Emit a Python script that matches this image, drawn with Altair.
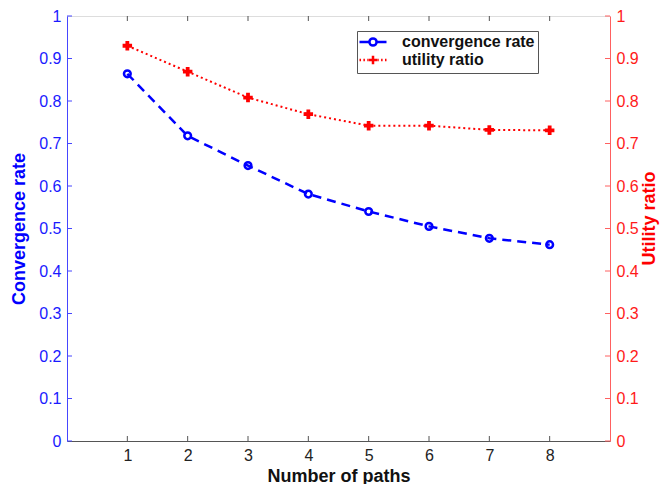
import altair as alt
import pandas as pd

# ---- data ----
paths = [1, 2, 3, 4, 5, 6, 7, 8]
convergence_rate = [0.864, 0.718, 0.648, 0.581, 0.540, 0.505, 0.477, 0.462]
utility_ratio = [0.930, 0.869, 0.808, 0.769, 0.742, 0.742, 0.732, 0.731]
series_names = ["convergence rate", "utility ratio"]
x_tick_values = [1, 2, 3, 4, 5, 6, 7, 8]
y_tick_values = [0, 0.1, 0.2, 0.3, 0.4, 0.5, 0.6, 0.7, 0.8, 0.9, 1]

# ---- styles ----
W, H = 543, 425
FONT = "Liberation Sans"
BLUE = "#0000ff"
RED = "#ff0000"
BLUE_AX = "#4646ff"
RED_AX = "#ff6060"
GRAY = "#555555"

conv = pd.DataFrame({"x": paths, "y": convergence_rate, "series": series_names[0]})
util = pd.DataFrame({"x": paths, "y": utility_ratio, "series": series_names[1]})
both = pd.concat([conv, util], ignore_index=True)
yt = pd.DataFrame({"y": y_tick_values})
xt = pd.DataFrame({"x": x_tick_values})

xscale = alt.Scale(domain=[0, 9], nice=False, zero=False)
yscale = alt.Scale(domain=[0, 1], nice=False)

x_axis = alt.Axis(values=x_tick_values, ticks=False, grid=False, domainColor=GRAY,
                  labelColor="#222222", labelFontSize=16, labelPadding=6, labelFont=FONT,
                  title="Number of paths", titleFont=FONT, titleFontSize=18,
                  titleFontWeight="bold", titleColor="#111111", titlePadding=4)
X = alt.X("x:Q", scale=xscale, axis=x_axis)

left_axis = alt.Axis(values=y_tick_values, format="~g", ticks=False, grid=False,
                     domainColor=BLUE_AX, labelColor="#1a1aff", labelFontSize=16,
                     labelPadding=6, labelFont=FONT, title="Convergence rate",
                     titleFont=FONT, titleColor=BLUE, titleFontSize=18,
                     titleFontWeight="bold", titlePadding=10)
right_axis = alt.Axis(orient="right", values=y_tick_values, format="~g", ticks=False,
                      grid=False, domainColor=RED_AX, labelColor="#ff1a1a",
                      labelFontSize=16, labelPadding=6, labelFont=FONT,
                      title="Utility ratio", titleFont=FONT, titleColor=RED,
                      titleFontSize=18, titleFontWeight="bold", titlePadding=2,
                      titleAngle=270, titleBaseline="top", titleY=202)
YL = alt.Y("y:Q", scale=yscale, axis=left_axis)
YR = alt.Y("y:Q", scale=yscale, axis=right_axis)

# ---- left (blue) group ----
left_line = alt.Chart(conv).mark_line(color=BLUE, strokeWidth=2.5, strokeDash=[9, 6]).encode(x=X, y=YL)
left_pts = alt.Chart(conv).mark_point(shape="circle", color=BLUE, filled=False,
                                      strokeWidth=2.5, size=45, opacity=1).encode(x=X, y=YL)
left_ticks = alt.Chart(yt).mark_rule(color=BLUE_AX, strokeWidth=1).encode(
    y=YL, x=alt.value(0), x2=alt.value(5))
x_ticks_bottom = alt.Chart(xt).mark_rule(color=GRAY, strokeWidth=1).encode(
    x=X, y=alt.value(H), y2=alt.value(H - 5))
x_ticks_top = alt.Chart(xt).mark_rule(color=GRAY, strokeWidth=1).encode(
    x=X, y=alt.value(0), y2=alt.value(5))
left = alt.layer(left_line, left_pts, left_ticks, x_ticks_bottom, x_ticks_top)

# ---- right (red) group ----
right_line = alt.Chart(util).mark_line(color=RED, strokeWidth=2, strokeDash=[2, 3]).encode(x=X, y=YR)
right_pts = alt.Chart(util).mark_point(shape="cross", color=RED, filled=True,
                                       size=90, opacity=1).encode(x=X, y=YR)
right_ticks = alt.Chart(yt).mark_rule(color=RED_AX, strokeWidth=1).encode(
    y=YR, x=alt.value(W - 5), x2=alt.value(W))

blue_sym = ("M-2.25,0H-0.6M0.6,0H2.25"
            "M0.6,0A0.6,0.6 0 1 1 -0.6,0A0.6,0.6 0 1 1 0.6,0")
red_sym = ("M-2.25,0H-2.0M-1.6,0H-1.35M-0.95,0H-0.75"
           "M0.75,0H0.95M1.35,0H1.6M2.0,0H2.25"
           "M-0.7,0H0.7M0,-0.7V0.7")
legend = alt.Legend(title=None, orient="none", legendX=290, legendY=15,
                    strokeColor=GRAY, fillColor="white", padding=3,
                    labelFont=FONT, labelFontSize=16, labelFontWeight="bold",
                    labelColor="#111111", labelOffset=21, symbolOffset=5,
                    symbolSize=144, symbolStrokeWidth=2.5, symbolOpacity=1,
                    rowPadding=-1, cornerRadius=0)
legend_layer = alt.Chart(both).mark_point(filled=False, opacity=0).encode(
    x=X, y=YR,
    color=alt.Color("series:N", scale=alt.Scale(domain=series_names, range=[BLUE, RED]),
                    legend=legend),
    shape=alt.Shape("series:N", scale=alt.Scale(domain=series_names, range=[blue_sym, red_sym]),
                    legend=legend),
)
right = alt.layer(right_line, right_pts, right_ticks, legend_layer)

chart = (
    alt.layer(left, right)
    .resolve_scale(y="independent")
    .properties(width=W, height=H, autosize=alt.AutoSizeParams(type="none"),
                padding={"left": 59, "top": 8, "right": 50, "bottom": 43})
    .configure_view(stroke=GRAY, strokeWidth=1)
    .configure(font=FONT, background="white")
)

chart.save("out.html", embed_options={"renderer": "svg", "actions": False})
